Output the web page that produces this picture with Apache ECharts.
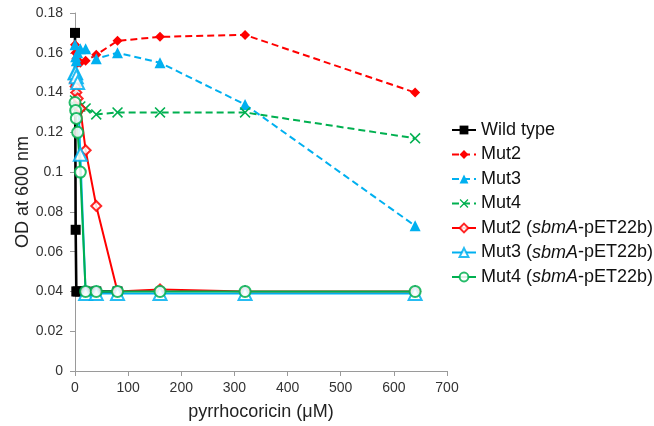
<!DOCTYPE html>
<html>
<head>
<meta charset="utf-8">
<script src="https://cdn.jsdelivr.net/npm/echarts@6/dist/echarts.min.js"></script>
<style>
  html, body { margin: 0; padding: 0; background: #fff; }
  #chart { width: 654px; height: 426px; }
</style>
</head>
<body>
<div id="chart"></div>
<script>
// concentrations (uM)
const xWild = [0, 1.25, 2.5, 5, 10, 20, 40, 80];
const xMut = [0, 1.25, 2.5, 5, 10, 20, 40, 80, 160, 320, 640];

const wildType = [0.17, 0.071, 0.04, 0.04, 0.04, 0.04, 0.04, 0.04];
const mut2 = [0.164, 0.16, 0.157, 0.155, 0.155, 0.156, 0.159, 0.166, 0.168, 0.169, 0.14];
const mut3 = [0.164, 0.158, 0.156, 0.16, 0.162, 0.162, 0.157, 0.16, 0.155, 0.134, 0.073];
const mut4 = [0.136, 0.133, 0.131, 0.132, 0.133, 0.132, 0.129, 0.13, 0.13, 0.13, 0.117];
const mut2Sbma = [0.145, 0.143, 0.14, 0.137, 0.132, 0.111, 0.083, 0.04, 0.041, 0.04, 0.04];
const mut3Sbma = [0.15, 0.15, 0.148, 0.145, 0.109, 0.039, 0.039, 0.039, 0.039, 0.039, 0.039];
const mut4Sbma = [0.135, 0.131, 0.127, 0.12, 0.1, 0.04, 0.04, 0.04, 0.04, 0.04, 0.04];

const names = ['Wild type', 'Mut2', 'Mut3', 'Mut4',
  'Mut2 (sbmA-pET22b)', 'Mut3 (sbmA-pET22b)', 'Mut4 (sbmA-pET22b)'];

const RED = '#ff0000', BLUE = '#00b0f0', GREEN = '#00b050';
const CROSS = 'path://M0,1L1,0L5,4L9,0L10,1L6,5L10,9L9,10L5,6L1,10L0,9L4,5Z';

function pairs(xs, ys) {
  return ys.map((v, i) => [xs[i], v]);
}

function mk(name, xs, ys, color, symbol, size, dashed, lw) {
  return {
    name: name,
    type: 'line',
    data: pairs(xs, ys),
    symbol: symbol,
    symbolSize: size,
    showAllSymbol: true,
    lineStyle: { color: color, width: lw || 2, type: dashed ? [7, 4] : 'solid' },
    itemStyle: { color: color, borderWidth: 1 },
    emphasis: { disabled: true },
    animation: false
  };
}

const series = [
  mk(names[0], xWild, wildType, '#000', 'rect', 10, false, 2.6),
  mk(names[1], xMut, mut2, RED, 'diamond', 10, true),
  mk(names[2], xMut, mut3, BLUE, 'triangle', 11, true),
  mk(names[3], xMut, mut4, GREEN, CROSS, 11, true),
  mk(names[4], xMut, mut2Sbma, RED, 'emptyDiamond', 10, false),
  mk(names[5], xMut, mut3Sbma, BLUE, 'emptyTriangle', 13, false),
  mk(names[6], xMut, mut4Sbma, GREEN, 'emptyCircle', 11, false)
];
// thinner outlines for the hollow markers
series.slice(4).forEach(s => { s.itemStyle.borderWidth = 0.8; s.itemStyle.opacity = 0.85; });

const axisGray = '#9a9a9a';
const fontFam = '"Liberation Sans", Arial, sans-serif';

const chart = echarts.init(document.getElementById('chart'), null, { renderer: 'canvas' });
chart.setOption({
  backgroundColor: '#fff',
  animation: false,
  grid: { left: 75, right: 207, top: 13, bottom: 55, containLabel: false },
  xAxis: {
    type: 'value',
    min: 0, max: 700, interval: 100,
    name: 'pyrrhocoricin (\u03bcM)',
    nameLocation: 'middle',
    nameGap: 32,
    nameTextStyle: { fontFamily: fontFam, fontSize: 18, color: '#222' },
    axisLine: { lineStyle: { color: axisGray, width: 1 } },
    axisTick: { show: true, length: 5, lineStyle: { color: axisGray } },
    axisLabel: { fontFamily: fontFam, fontSize: 14, color: '#333', margin: 10 },
    splitLine: { show: false }
  },
  yAxis: {
    type: 'value',
    min: 0, max: 0.18, interval: 0.02,
    name: 'OD at 600 nm',
    nameLocation: 'middle',
    nameGap: 43,
    nameMoveOverlap: false,
    nameTextStyle: { fontFamily: fontFam, fontSize: 18, color: '#222' },
    axisLine: { show: true, lineStyle: { color: axisGray, width: 1 } },
    axisTick: { show: true, length: 5, lineStyle: { color: axisGray } },
    axisLabel: { fontFamily: fontFam, fontSize: 14, color: '#333', margin: 12 },
    splitLine: { show: false }
  },
  legend: {
    data: names,
    orient: 'vertical',
    left: 446,
    top: 116,
    itemGap: 6.5,
    itemWidth: 24,
    itemHeight: 11,
    textStyle: {
      fontFamily: fontFam, fontSize: 18, color: '#111',
      rich: { i: { fontFamily: fontFam, fontSize: 18, fontStyle: 'italic', color: '#111' } }
    },
    formatter: (n) => n.replace('sbmA', '{i|sbmA}')
  },
  series: series
});
</script>
</body>
</html>
